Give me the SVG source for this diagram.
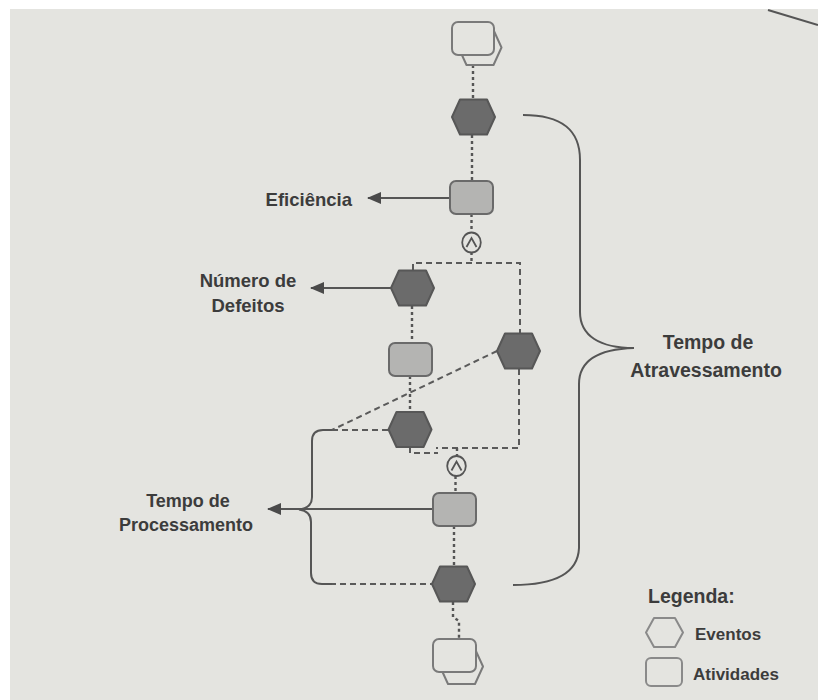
<svg xmlns="http://www.w3.org/2000/svg" width="818" height="700" viewBox="0 0 818 700">
<style>
.lbl{font-family:"Liberation Sans",Arial,sans-serif;font-weight:bold;fill:#3c3c3c}
.evt{fill:#6b6b6b;stroke:#575757;stroke-width:2;stroke-linejoin:round}
.act{fill:#b4b4b2;stroke:#6a6a6a;stroke-width:2}
.io{fill:#e4e4e0;stroke:#7a7a7a;stroke-width:2;stroke-linejoin:round}
.leg{fill:none;stroke:#8a8a8a;stroke-width:2;stroke-linejoin:round}
.dot{fill:none;stroke:#555;stroke-width:2.4;stroke-dasharray:3 3}
.dash{fill:none;stroke:#5a5a5a;stroke-width:2;stroke-dasharray:6 4}
.solid{fill:none;stroke:#555;stroke-width:2}
.op{fill:#e4e4e0;stroke:#555;stroke-width:1.8}
</style>
<defs>
<path id="hex" d="M-13.5,-17.5 H13.5 L21.5,0 L13.5,17.5 H-13.5 L-21.5,0 Z"/>
<rect id="box" x="-21.5" y="-16.5" width="43" height="33" rx="6"/>
<g id="andop"><ellipse cx="0" cy="0" rx="9.3" ry="10"/><path d="M-5,4.5 L0,-4.5 L5,4.5" fill="none"/></g>
<marker id="arr" markerUnits="userSpaceOnUse" markerWidth="14" markerHeight="12" refX="13" refY="6" orient="auto">
<path d="M0,0 L14,6 L0,12 Z" fill="#4a4a4a"/>
</marker>
</defs>
<rect x="0" y="0" width="818" height="700" fill="#ffffff"/>
<rect x="10" y="9" width="808" height="691" fill="#e4e4e0"/>
<path d="M768,10 L818,25" fill="none" stroke="#555" stroke-width="2"/>

<g id="connectors">
<path class="dot" d="M473,65 V99"/>
<path class="dot" d="M472,135 V181"/>
<path class="dot" d="M471.5,214 V233"/>
<path class="dot" d="M471.5,252 V263"/>
<path class="dash" d="M413,270 V263 H520 V333"/>
<path class="dot" d="M412,306 V343"/>
<path class="dot" d="M410,376 V411"/>
<path class="dash" d="M497,351 L332,430 M332,430 H389"/>
<path class="dash" d="M410,447 V453 H438"/>
<path class="dash" d="M519,369 V448 H436"/>
<path class="dot" d="M457,448 V456"/>
<path class="dot" d="M455.5,476 V493"/>
<path class="dot" d="M454,526 V566"/>
<path class="dash" d="M330,584 H432"/>
<path class="dot" d="M453,602 V617 L459,621 V639"/>
<path class="solid" d="M450,198 H368" marker-end="url(#arr)"/>
<path class="solid" d="M391,288 H311" marker-end="url(#arr)"/>
<path class="solid" d="M433,509 H268" marker-end="url(#arr)"/>
<path class="solid" d="M332,430 H323 Q312,430 312,441 V497 Q312,508 299,509.5 Q311,511 311,522 V573 Q311,584 322,584 H332"/>
<path class="solid" d="M523,115 C562,115 580,130 580,160 V312 C580,336 600,348 634,348 C600,349 579,360 579,384 V548 C578,572 556,585 513,585"/>
</g>

<g id="start"><use href="#hex" class="io" transform="translate(480,47.5)"/><rect class="io" x="452" y="22" width="42" height="33" rx="6"/></g>
<g id="e1"><use href="#hex" class="evt" transform="translate(473.5,117)"/></g>
<g id="a1"><use href="#box" class="act" transform="translate(471.5,197.5)"/></g>
<g id="and1"><use href="#andop" class="op" transform="translate(471.5,242.5)"/></g>
<g id="e2"><use href="#hex" class="evt" transform="translate(412.5,288)"/></g>
<g id="a2"><use href="#box" class="act" transform="translate(410.5,359.5)"/></g>
<g id="e3"><use href="#hex" class="evt" transform="translate(518.5,351)"/></g>
<g id="e4"><use href="#hex" class="evt" transform="translate(410,429.5)"/></g>
<g id="and2"><use href="#andop" class="op" transform="translate(456.5,466)"/></g>
<g id="a3"><use href="#box" class="act" transform="translate(454.5,509.5)"/></g>
<g id="e5"><use href="#hex" class="evt" transform="translate(453.5,584)"/></g>
<g id="end"><use href="#hex" class="io" transform="translate(461.5,666.5)"/><rect class="io" x="433" y="639" width="43" height="33" rx="6"/></g>

<g id="lbl-eficiencia"><text class="lbl" x="352" y="206" font-size="18.5" text-anchor="end">Eficiência</text></g>
<g id="lbl-defeitos"><text class="lbl" font-size="18.5" text-anchor="middle"><tspan x="248" y="287">Número de</tspan><tspan x="248" y="312">Defeitos</tspan></text></g>
<g id="lbl-processamento"><text class="lbl" font-size="18" text-anchor="middle"><tspan x="188" y="507">Tempo de</tspan><tspan x="186" y="531">Processamento</tspan></text></g>
<g id="lbl-atravessamento"><text class="lbl" font-size="19.5" text-anchor="middle"><tspan x="708" y="349">Tempo de</tspan><tspan x="706" y="377">Atravessamento</tspan></text></g>

<g id="legend">
<text class="lbl" x="648" y="603" font-size="19.5">Legenda:</text>
<path class="leg" d="M654,618 H675 L683,632.5 L675,647 H654 L646,632.5 Z"/>
<text class="lbl" x="695" y="640" font-size="17">Eventos</text>
<rect class="leg" x="646" y="658" width="36" height="28" rx="5"/>
<text class="lbl" x="693" y="680" font-size="17">Atividades</text>
</g>
</svg>
